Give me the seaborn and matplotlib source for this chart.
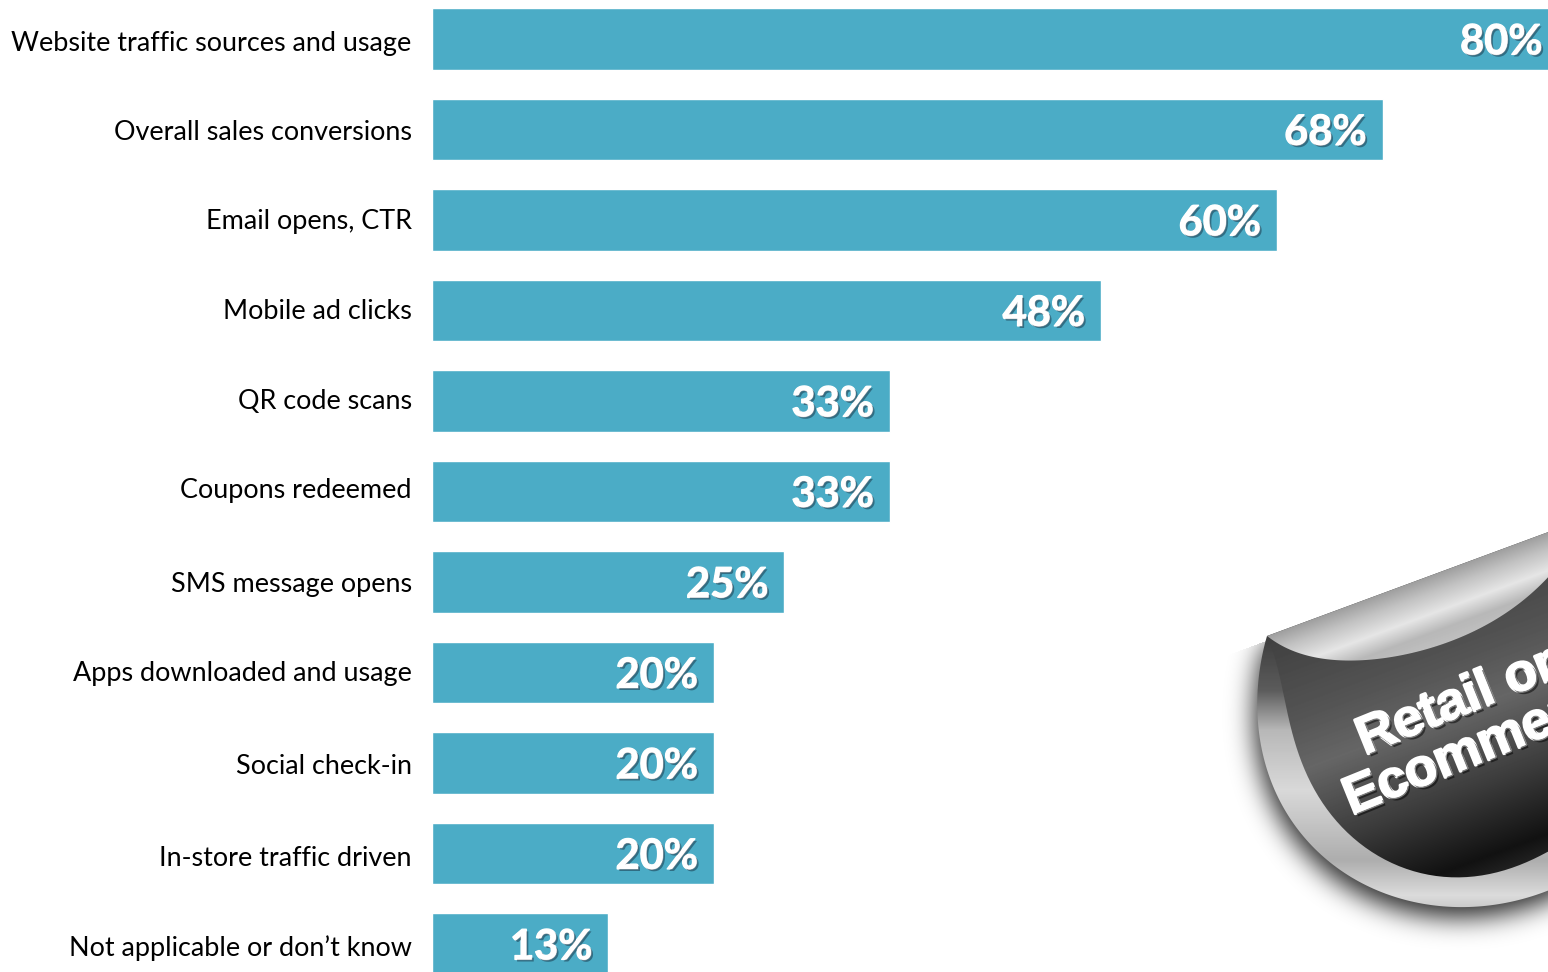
import matplotlib
matplotlib.use("Agg")
import matplotlib.pyplot as plt
import matplotlib.patheffects as pe
import numpy as np
import pandas as pd
import seaborn as sns
from matplotlib.patches import PathPatch
from matplotlib.path import Path
from matplotlib.transforms import ScaledTranslation

categories = [
    "Website traffic sources and usage",
    "Overall sales conversions",
    "Email opens, CTR",
    "Mobile ad clicks",
    "QR code scans",
    "Coupons redeemed",
    "SMS message opens",
    "Apps downloaded and usage",
    "Social check-in",
    "In-store traffic driven",
    "Not applicable or don\u2019t know",
]
values = [80, 67.5, 60, 47.5, 32.5, 32.5, 25, 20, 20, 20, 12.5]
value_labels = ["80%", "68%", "60%", "48%", "33%", "33%", "25%", "20%", "20%", "20%", "13%"]

BAR_COLOR = "#4BACC6"
W, H = 1548, 972

# Kategorie-Beschriftungen sitzen im Original nicht ganz mittig (Pixel, nach unten positiv)
TICK_NUDGE = [2, 1, -1, -1, -2, -3, 0, -1, 1, 3, 2]

# outline of the sticker in the corner, in image pixels
TIP = [(1267, 636)]
OUTER_EDGE = TIP + [(1257, 700), (1267, 767), (1300, 833), (1350, 877), (1400, 898),
                    (1450, 907), (1500, 903), (1548, 892), (1570, 880)]
INNER_EDGE = TIP + [(1285, 700), (1297, 750), (1327, 810), (1367, 847), (1407, 870),
                    (1450, 878), (1500, 870), (1548, 853), (1570, 838)]
FOLD_EDGE = TIP + [(1300, 653), (1340, 661), (1383, 658), (1433, 647), (1483, 627),
                   (1520, 603), (1548, 577), (1570, 550)]
FOLD_TOP = [(1570, 524)]


def smooth(points, degree=5, n=120):
    """Glatte Kurve durch die Umrisspunkte legen."""
    pts = np.array(points, dtype=float)
    t = np.r_[0, np.cumsum(np.hypot(*np.diff(pts, axis=0).T))]
    tt = np.linspace(0, t[-1], n)
    curve = np.c_[np.polyval(np.polyfit(t, pts[:, 0], degree), tt),
                  np.polyval(np.polyfit(t, pts[:, 1], degree), tt)]
    curve[0] = pts[0]
    return curve


def gradient(ax, u, stops, clip_points):
    """Grauverlauf auf dem Pixelraster, auf eine Form beschnitten."""
    pos = np.array([s[0] for s in stops], dtype=float)
    grey = np.interp(u, pos, [s[1] for s in stops])
    im = ax.imshow(grey, cmap="gray", vmin=0, vmax=1, extent=(1190, 1570, 972, 500),
                   interpolation="bilinear", aspect="auto", zorder=3)
    patch = PathPatch(Path(clip_points), transform=ax.transData, fc="none", ec="none")
    ax.add_patch(patch)
    im.set_clip_path(patch)


def draw_sticker(fig):
    ax = fig.add_axes([0, 0, 1, 1], facecolor="none")
    ax.set_axis_off()

    outer = smooth(OUTER_EDGE)
    inner = smooth(INNER_EDGE)
    fold = smooth(FOLD_EDGE)
    top = np.array(TIP + FOLD_TOP, dtype=float)

    xx, yy = np.meshgrid(np.arange(1190, 1570), np.arange(500, 972))

    # weicher Schatten
    body = np.vstack([outer, top[::-1]])
    mask = Path(body + [-3, 10]).contains_points(np.c_[xx.ravel(), yy.ravel()]).reshape(xx.shape)
    kernel = np.exp(-0.5 * (np.arange(-40, 41) / 13.0) ** 2)
    kernel /= kernel.sum()
    blur = np.apply_along_axis(lambda r: np.convolve(r, kernel, mode="same"), 0, mask * 1.0)
    blur = np.apply_along_axis(lambda r: np.convolve(r, kernel, mode="same"), 1, blur)
    blur[(yy - 636) < -0.37 * (xx - 1267) + 4] = 0
    rgba = np.zeros(xx.shape + (4,))
    rgba[..., 3] = blur * 0.85
    ax.imshow(rgba, extent=(1190, 1570, 972, 500), aspect="auto", zorder=2,
              interpolation="bilinear")

    # Rand, dunkle Flaeche, umgeschlagene Kante
    gradient(ax, yy, [(636, 0.24), (690, 0.36), (730, 0.72), (790, 0.85), (860, 0.68),
                      (895, 0.86), (910, 0.78)], np.vstack([outer, top[::-1]]))
    u = 0.347 * xx + 0.938 * yy
    gradient(ax, u, [(1036, 0.25), (1122, 0.33), (1174, 0.40), (1253, 0.23), (1319, 0.07),
                     (1345, 0.15)], np.vstack([inner, fold[::-1]]))
    gradient(ax, u, [(1036, 0.62), (1052, 0.76), (1072, 0.90), (1090, 0.72), (1120, 0.78)],
             np.vstack([fold, top[::-1]]))

    effects = [pe.withStroke(linewidth=2.2, foreground="white"),
               pe.withSimplePatchShadow(offset=(2, -2), shadow_rgbFace="black", alpha=0.5),
               pe.Normal()]
    for label, x, y in [("Retail or", 1365, 755), ("Ecommerce", 1352, 815)]:
        ax.text(x, y, label, rotation=22, rotation_mode="anchor", ha="left", va="baseline",
                color="white", fontsize=38, fontweight="bold", family="Liberation Sans",
                path_effects=effects, zorder=4)

    ax.set_xlim(0, W)
    ax.set_ylim(H, 0)


sns.set_theme(style="white")
plt.rcParams["font.family"] = ["Lato", "DejaVu Sans"]

df = pd.DataFrame({"Kategorie": categories, "Wert": values})

fig = plt.figure(figsize=(W / 100, H / 100), dpi=100, facecolor="white")
ax = fig.add_axes([432.5 / W, 0, 1 - 432.5 / W, 1])
sns.barplot(data=df, x="Wert", y="Kategorie", color=BAR_COLOR, saturation=1, width=0.68,
            orient="h", ax=ax)

ax.set_xlim(0, 79.25)
ax.set_ylim(10.31, -0.43)
ax.set_xlabel("")
ax.set_ylabel("")
ax.set_xticks([])
ax.tick_params(axis="y", length=0, pad=15, labelsize=19.45, labelcolor="black")
sns.despine(ax=ax, left=True, bottom=True)

for tick, nudge in zip(ax.get_yticklabels(), TICK_NUDGE):
    tick.set_transform(tick.get_transform() + ScaledTranslation(0, -nudge / 100, fig.dpi_scale_trans))

label_effects = [pe.withStroke(linewidth=1.0, foreground="white"),
                 pe.withSimplePatchShadow(offset=(1.5, -1.5), shadow_rgbFace="#123", alpha=0.45),
                 pe.Normal()]
for i, (value, label) in enumerate(zip(values, value_labels)):
    ax.annotate(label, xy=(value, i), xytext=(-11.5, -2.5), textcoords="offset points",
                ha="right", va="center", color="white", fontsize=30, fontweight="bold",
                annotation_clip=False, path_effects=label_effects)

draw_sticker(fig)

fig.savefig("out.png", dpi=100)
